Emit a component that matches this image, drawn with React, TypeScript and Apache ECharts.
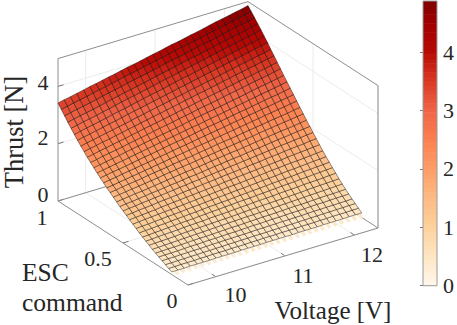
import React, { useEffect, useRef } from "react";
import * as echarts from "echarts";

const voltages = [9.6,9.69,9.78,9.87,9.97,10.06,10.15,10.24,10.33,10.42,10.51,10.6,10.7,10.79,10.88,10.97,11.06,11.15,11.24,11.34,11.43,11.52,11.61,11.7,11.79,11.88,11.97,12.07,12.16,12.25,12.34];
const commands = [0.1,0.125,0.15,0.175,0.2,0.225,0.25,0.275,0.3,0.325,0.35,0.375,0.4,0.425,0.45,0.475,0.5,0.525,0.55,0.575,0.6,0.625,0.65,0.675,0.7,0.725,0.75,0.775,0.8,0.825,0.85,0.875,0.9,0.925,0.95,0.975,1];
// Thrust [N], one row per command. First and last column and the last row are read from
// the picture's surface edges; interior cells cannot be read one by one and are estimates between them.
const thrustRows = [
[0.05,0.05,0.05,0.05,0.05,0.06,0.06,0.06,0.06,0.06,0.06,0.06,0.06,0.06,0.06,0.07,0.07,0.07,0.07,0.07,0.07,0.07,0.07,0.07,0.07,0.08,0.08,0.08,0.08,0.08,0.08],
[0.09,0.09,0.09,0.1,0.1,0.1,0.1,0.11,0.11,0.11,0.11,0.12,0.12,0.12,0.12,0.13,0.13,0.13,0.13,0.13,0.14,0.14,0.14,0.14,0.15,0.15,0.15,0.15,0.16,0.16,0.16],
[0.14,0.14,0.15,0.15,0.15,0.16,0.16,0.17,0.17,0.17,0.18,0.18,0.18,0.19,0.19,0.2,0.2,0.2,0.21,0.21,0.21,0.22,0.22,0.22,0.23,0.23,0.24,0.24,0.24,0.25,0.25],
[0.2,0.2,0.21,0.21,0.22,0.22,0.23,0.23,0.24,0.24,0.25,0.25,0.26,0.26,0.27,0.27,0.27,0.28,0.28,0.29,0.29,0.3,0.3,0.31,0.31,0.32,0.32,0.33,0.33,0.34,0.34],
[0.26,0.27,0.27,0.28,0.28,0.29,0.29,0.3,0.31,0.31,0.32,0.32,0.33,0.33,0.34,0.35,0.35,0.36,0.36,0.37,0.37,0.38,0.38,0.39,0.4,0.4,0.41,0.41,0.42,0.42,0.43],
[0.32,0.33,0.33,0.34,0.35,0.36,0.36,0.37,0.38,0.38,0.39,0.4,0.4,0.41,0.42,0.43,0.43,0.44,0.45,0.45,0.46,0.47,0.47,0.48,0.49,0.5,0.5,0.51,0.52,0.52,0.53],
[0.38,0.39,0.4,0.4,0.41,0.42,0.43,0.44,0.44,0.45,0.46,0.47,0.48,0.48,0.49,0.5,0.51,0.52,0.52,0.53,0.54,0.55,0.56,0.56,0.57,0.58,0.59,0.6,0.6,0.61,0.62],
[0.44,0.45,0.46,0.47,0.48,0.49,0.5,0.51,0.52,0.53,0.54,0.55,0.56,0.57,0.58,0.59,0.59,0.6,0.61,0.62,0.63,0.64,0.65,0.66,0.67,0.68,0.69,0.7,0.71,0.72,0.73],
[0.51,0.52,0.53,0.54,0.55,0.57,0.58,0.59,0.6,0.61,0.62,0.63,0.64,0.65,0.66,0.68,0.69,0.7,0.71,0.72,0.73,0.74,0.75,0.76,0.77,0.79,0.8,0.81,0.82,0.83,0.84],
[0.58,0.59,0.61,0.62,0.63,0.64,0.66,0.67,0.68,0.69,0.71,0.72,0.73,0.74,0.76,0.77,0.78,0.8,0.81,0.82,0.83,0.85,0.86,0.87,0.88,0.9,0.91,0.92,0.93,0.95,0.96],
[0.65,0.66,0.68,0.69,0.71,0.72,0.74,0.75,0.76,0.78,0.79,0.81,0.82,0.84,0.85,0.87,0.88,0.89,0.91,0.92,0.94,0.95,0.97,0.98,0.99,1.01,1.02,1.04,1.05,1.07,1.08],
[0.72,0.74,0.75,0.77,0.78,0.8,0.82,0.83,0.85,0.86,0.88,0.9,0.91,0.93,0.94,0.96,0.98,0.99,1.01,1.02,1.04,1.06,1.07,1.09,1.1,1.12,1.14,1.15,1.17,1.18,1.2],
[0.8,0.82,0.83,0.85,0.87,0.89,0.9,0.92,0.94,0.96,0.97,0.99,1.01,1.03,1.04,1.06,1.08,1.09,1.11,1.13,1.15,1.16,1.18,1.2,1.22,1.23,1.25,1.27,1.29,1.3,1.32],
[0.88,0.9,0.92,0.94,0.96,0.98,0.99,1.01,1.03,1.05,1.07,1.09,1.11,1.13,1.15,1.17,1.18,1.2,1.22,1.24,1.26,1.28,1.3,1.32,1.34,1.36,1.37,1.39,1.41,1.43,1.45],
[0.96,0.98,1,1.02,1.04,1.07,1.09,1.11,1.13,1.15,1.17,1.19,1.21,1.23,1.25,1.28,1.3,1.32,1.34,1.36,1.38,1.4,1.42,1.44,1.46,1.49,1.51,1.53,1.55,1.57,1.59],
[1.04,1.06,1.09,1.11,1.13,1.16,1.18,1.2,1.22,1.25,1.27,1.29,1.32,1.34,1.36,1.39,1.41,1.43,1.45,1.48,1.5,1.52,1.55,1.57,1.59,1.62,1.64,1.66,1.68,1.71,1.73],
[1.12,1.15,1.17,1.2,1.22,1.25,1.27,1.3,1.32,1.35,1.37,1.4,1.42,1.45,1.47,1.5,1.52,1.55,1.57,1.6,1.62,1.65,1.67,1.7,1.72,1.75,1.77,1.8,1.82,1.85,1.87],
[1.2,1.23,1.25,1.28,1.31,1.34,1.36,1.39,1.42,1.44,1.47,1.5,1.52,1.55,1.58,1.61,1.63,1.66,1.69,1.71,1.74,1.77,1.79,1.82,1.85,1.88,1.9,1.93,1.96,1.98,2.01],
[1.29,1.32,1.35,1.38,1.4,1.43,1.46,1.49,1.52,1.55,1.58,1.61,1.63,1.66,1.69,1.72,1.75,1.78,1.81,1.83,1.86,1.89,1.92,1.95,1.98,2.01,2.04,2.06,2.09,2.12,2.15],
[1.38,1.41,1.44,1.47,1.5,1.53,1.56,1.59,1.63,1.66,1.69,1.72,1.75,1.78,1.81,1.84,1.87,1.9,1.93,1.96,1.99,2.02,2.05,2.09,2.12,2.15,2.18,2.21,2.24,2.27,2.3],
[1.47,1.5,1.54,1.57,1.6,1.63,1.67,1.7,1.73,1.76,1.8,1.83,1.86,1.89,1.93,1.96,1.99,2.03,2.06,2.09,2.12,2.16,2.19,2.22,2.25,2.29,2.32,2.35,2.38,2.42,2.45],
[1.56,1.59,1.63,1.66,1.7,1.73,1.77,1.8,1.84,1.87,1.91,1.94,1.98,2.01,2.05,2.08,2.11,2.15,2.18,2.22,2.25,2.29,2.32,2.36,2.39,2.43,2.46,2.5,2.53,2.57,2.6],
[1.66,1.7,1.73,1.77,1.81,1.84,1.88,1.91,1.95,1.99,2.02,2.06,2.1,2.13,2.17,2.21,2.24,2.28,2.31,2.35,2.39,2.42,2.46,2.5,2.53,2.57,2.6,2.64,2.68,2.71,2.75],
[1.76,1.8,1.84,1.87,1.91,1.95,1.99,2.03,2.06,2.1,2.14,2.18,2.22,2.25,2.29,2.33,2.37,2.41,2.44,2.48,2.52,2.56,2.6,2.63,2.67,2.71,2.75,2.79,2.82,2.86,2.9],
[1.86,1.9,1.94,1.98,2.02,2.06,2.1,2.14,2.18,2.22,2.26,2.3,2.34,2.38,2.42,2.46,2.49,2.53,2.57,2.61,2.65,2.69,2.73,2.77,2.81,2.85,2.89,2.93,2.97,3.01,3.05],
[1.97,2.01,2.05,2.09,2.13,2.18,2.22,2.26,2.3,2.34,2.38,2.42,2.46,2.5,2.54,2.59,2.63,2.67,2.71,2.75,2.79,2.83,2.87,2.91,2.95,3,3.04,3.08,3.12,3.16,3.2],
[2.08,2.12,2.17,2.21,2.25,2.29,2.34,2.38,2.42,2.46,2.51,2.55,2.59,2.63,2.68,2.72,2.76,2.81,2.85,2.89,2.93,2.98,3.02,3.06,3.1,3.15,3.19,3.23,3.27,3.32,3.36],
[2.19,2.23,2.28,2.32,2.37,2.41,2.45,2.5,2.54,2.59,2.63,2.67,2.72,2.76,2.81,2.85,2.89,2.94,2.98,3.03,3.07,3.11,3.16,3.2,3.25,3.29,3.33,3.38,3.42,3.47,3.51],
[2.31,2.36,2.4,2.45,2.49,2.54,2.58,2.63,2.67,2.72,2.76,2.81,2.85,2.9,2.94,2.99,3.04,3.08,3.13,3.17,3.22,3.26,3.31,3.35,3.4,3.44,3.49,3.53,3.58,3.62,3.67],
[2.43,2.48,2.52,2.57,2.62,2.66,2.71,2.75,2.8,2.85,2.89,2.94,2.99,3.03,3.08,3.13,3.17,3.22,3.26,3.31,3.36,3.4,3.45,3.5,3.54,3.59,3.63,3.68,3.73,3.77,3.82],
[2.56,2.61,2.65,2.7,2.75,2.8,2.84,2.89,2.94,2.99,3.03,3.08,3.13,3.18,3.22,3.27,3.32,3.36,3.41,3.46,3.51,3.55,3.6,3.65,3.7,3.74,3.79,3.84,3.89,3.93,3.98],
[2.69,2.74,2.79,2.83,2.88,2.93,2.98,3.03,3.07,3.12,3.17,3.22,3.27,3.31,3.36,3.41,3.46,3.51,3.55,3.6,3.65,3.7,3.75,3.79,3.84,3.89,3.94,3.99,4.03,4.08,4.13],
[2.83,2.88,2.93,2.97,3.02,3.07,3.12,3.17,3.22,3.27,3.31,3.36,3.41,3.46,3.51,3.56,3.6,3.65,3.7,3.75,3.8,3.84,3.89,3.94,3.99,4.04,4.09,4.13,4.18,4.23,4.28],
[2.97,3.02,3.07,3.11,3.16,3.21,3.26,3.31,3.36,3.41,3.45,3.5,3.55,3.6,3.65,3.7,3.74,3.79,3.84,3.89,3.94,3.98,4.03,4.08,4.13,4.18,4.23,4.27,4.32,4.37,4.42],
[3.12,3.17,3.22,3.26,3.31,3.36,3.41,3.46,3.5,3.55,3.6,3.65,3.7,3.74,3.79,3.84,3.89,3.94,3.98,4.03,4.08,4.13,4.18,4.22,4.27,4.32,4.37,4.42,4.46,4.51,4.56],
[3.27,3.32,3.37,3.41,3.46,3.51,3.56,3.6,3.65,3.7,3.75,3.79,3.84,3.89,3.94,3.99,4.03,4.08,4.13,4.18,4.22,4.27,4.32,4.37,4.41,4.46,4.51,4.56,4.6,4.65,4.7],
[3.42,3.47,3.51,3.56,3.61,3.66,3.7,3.75,3.8,3.84,3.89,3.94,3.98,4.03,4.08,4.13,4.17,4.22,4.27,4.31,4.36,4.41,4.45,4.5,4.55,4.6,4.64,4.69,4.74,4.78,4.83],
];
const voltageTicks = [10, 11, 12];
const commandTicks = [0, 0.5, 1];
const thrustGrid = [2, 4];
const colorTicks = [0, 1, 2, 3, 4];
const colorMax = 4.875;
const zMax = 4.97;
const vMin = 9.6;
const vMax = 12.34;
const colorAt = [0, 0.5, 1, 1.5, 2, 2.5, 3, 3.5, 4, 4.5, 4.875];
const colorStops = ["#fff7ec", "#fee6c4", "#fdd29d", "#fdbb84", "#fd9d66", "#fb8050", "#ee6548", "#da3a25", "#b80a05", "#a00000", "#7f0000"];
const LEVELS = 64;

const FRONT = [188, 285];
const VDIR = [190, -57];
const CDIR = [-130, -84];
const ZSCALE = 28.65;
const FONT = "Liberation Serif, Times New Roman, DejaVu Serif, serif";
const INK = "#262626";

function project(v: number, c: number, z: number) {
  const a = (v - vMin) / (vMax - vMin);
  return [FRONT[0] + a * VDIR[0] + c * CDIR[0], FRONT[1] + a * VDIR[1] + c * CDIR[1] - z * ZSCALE];
}
function hex(s: string) {
  return [1, 3, 5].map((i) => parseInt(s.slice(i, i + 2), 16));
}
function colorOf(value: number) {
  const lvl = Math.min(LEVELS - 1, Math.max(0, Math.floor((value / colorMax) * LEVELS)));
  const t = ((lvl + 0.5) / LEVELS) * colorMax;
  let i = 0;
  while (i < colorAt.length - 2 && t > colorAt[i + 1]) i++;
  const f = (t - colorAt[i]) / (colorAt[i + 1] - colorAt[i]);
  const a = hex(colorStops[i]);
  const b = hex(colorStops[i + 1]);
  return `rgb(${a.map((x, k) => Math.round(x + (b[k] - x) * f)).join(",")})`;
}
// The reference's low part of the surface is a little more saturated than the colour bar at that height.
const surfaceColor = (t: number) => colorOf(t + 0.3 * Math.max(0, 1 - t / 3));

type Seg = { p: number[][]; kind: "grid" | "box" | "tick" };
const segs: Seg[] = [];
const seg = (a: number[], b: number[], kind: Seg["kind"]) => segs.push({ p: [project(a[0], a[1], a[2]), project(b[0], b[1], b[2])], kind });
voltageTicks.forEach((v) => {
  seg([v, 0, 0], [v, 1, 0], "grid");
  seg([v, 1, 0], [v, 1, zMax], "grid");
  seg([v, 0, 0], [v, 0.03, 0], "tick");
});
commandTicks.forEach((c) => {
  seg([vMin, c, 0], [vMax, c, 0], "grid");
  seg([vMax, c, 0], [vMax, c, zMax], "grid");
  seg([vMin, c, 0], [vMin + 0.08, c, 0], "tick");
});
thrustGrid.forEach((z) => {
  seg([vMin, 1, z], [vMax, 1, z], "grid");
  seg([vMax, 1, z], [vMax, 0, z], "grid");
  seg([vMin, 1, z], [vMin + 0.08, 1, z], "tick");
});
seg([vMin, 1, 0], [vMin, 0, 0], "box");
seg([vMin, 0, 0], [vMax, 0, 0], "box");
seg([vMin, 1, 0], [vMax, 1, 0], "box");
seg([vMax, 1, 0], [vMax, 0, 0], "box");
seg([vMin, 1, 0], [vMin, 1, zMax], "box");
seg([vMax, 0, 0], [vMax, 0, zMax], "box");
seg([vMin, 1, zMax], [vMax, 1, zMax], "box");
seg([vMax, 1, zMax], [vMax, 0, zMax], "box");

const cells: number[][] = [];
for (let r = 0; r < commands.length - 1; r++) for (let k = 0; k < voltages.length - 1; k++) cells.push([k, r]);
const bands: number[][] = [];
for (let i = 0; i < LEVELS; i++) bands.push([(i / LEVELS) * colorMax, ((i + 1) / LEVELS) * colorMax]);

const text = (t: string, x: number, y: number, size: number, extra: object = {}) => ({
  type: "text",
  x,
  y,
  silent: true,
  style: { text: t, fontFamily: FONT, fontSize: size, fill: INK, textAlign: "center", textVerticalAlign: "middle", ...extra },
});

export default function App() {
  const ref = useRef<HTMLDivElement>(null);
  useEffect(() => {
    document.body.style.margin = "0";
    const chart = echarts.init(ref.current!, undefined, { renderer: "svg" });
    chart.setOption({
      animation: false,
      backgroundColor: "#fff",
      grid: [
        { left: 0, top: 0, width: 457, height: 325 },
        { left: 423, top: 1, width: 16, height: 284.7, show: true, borderColor: "#9a9a9a", borderWidth: 1, z: 5 },
      ],
      xAxis: [
        { type: "value", min: 0, max: 457, show: false, gridIndex: 0 },
        { type: "value", min: 0, max: 1, show: false, gridIndex: 1 },
      ],
      yAxis: [
        { type: "value", min: 0, max: 325, inverse: true, show: false, gridIndex: 0 },
        {
          type: "value",
          min: 0,
          max: colorMax,
          gridIndex: 1,
          position: "right",
          splitLine: { show: false },
          axisLine: { show: false },
          axisTick: { inside: true, length: 3, lineStyle: { color: "#777" }, customValues: colorTicks },
          axisLabel: { customValues: colorTicks, margin: 6, fontFamily: FONT, fontSize: 22, color: INK },
        },
      ],
      series: [
        {
          type: "custom",
          xAxisIndex: 0,
          yAxisIndex: 0,
          z: 1,
          silent: true,
          data: segs.map((_, i) => [i]),
          renderItem: (params: any, api: any) => {
            const s = segs[params.dataIndex];
            const a = api.coord(s.p[0]);
            const b = api.coord(s.p[1]);
            const st =
              s.kind === "grid"
                ? { stroke: "#ececec", lineWidth: 1 }
                : s.kind === "box"
                ? { stroke: "#8e8e8e", lineWidth: 1 }
                : { stroke: "#777", lineWidth: 1 };
            return { type: "line", shape: { x1: a[0], y1: a[1], x2: b[0], y2: b[1] }, style: st };
          },
        },
        {
          type: "custom",
          xAxisIndex: 0,
          yAxisIndex: 0,
          z: 2,
          silent: true,
          data: cells,
          renderItem: (params: any, api: any) => {
            const [k, r] = cells[params.dataIndex];
            const pts = [
              [k, r],
              [k + 1, r],
              [k + 1, r + 1],
              [k, r + 1],
            ].map(([a, b]) => api.coord(project(voltages[a], commands[b], thrustRows[b][a])));
            const mean = (thrustRows[r][k] + thrustRows[r][k + 1] + thrustRows[r + 1][k] + thrustRows[r + 1][k + 1]) / 4;
            if (r === 0) {
              // the lowest row of the mesh is cut off at the floor: only a fringe of colour remains
              const mid = (i: number, j: number) => [(pts[i][0] + pts[j][0]) / 2, (pts[i][1] + pts[j][1]) / 2];
              const a = mid(0, 1);
              const b = mid(2, 3);
              return { type: "line", shape: { x1: a[0], y1: a[1], x2: b[0], y2: b[1] }, style: { stroke: surfaceColor(mean), lineWidth: 3.4 } };
            }
            return {
              type: "polygon",
              shape: { points: pts },
              style: { fill: surfaceColor(mean), stroke: "rgba(0,0,0,0.42)", lineWidth: 1 },
            };
          },
        },
        {
          type: "custom",
          xAxisIndex: 1,
          yAxisIndex: 1,
          z: 2,
          silent: true,
          data: bands,
          renderItem: (params: any, api: any) => {
            const [lo, hi] = bands[params.dataIndex];
            const a = api.coord([0, lo]);
            const b = api.coord([1, hi]);
            return {
              type: "rect",
              shape: { x: a[0], y: b[1], width: b[0] - a[0], height: a[1] - b[1] + 0.5 },
              style: { fill: colorOf((lo + hi) / 2) },
            };
          },
        },
      ],
      graphic: [
        text("10", 235.5, 294.5, 22),
        text("11", 303, 275, 22),
        text("12", 372, 254.5, 22),
        text("0", 172, 300, 22),
        text("0.5", 98, 258, 22),
        text("1", 42, 217, 22),
        text("0", 43, 194, 22),
        text("2", 43, 137, 22),
        text("4", 43, 82, 22),
        text("ESC", 22, 272, 25.5, { textAlign: "left" }),
        text("command", 22, 302, 25.5, { textAlign: "left" }),
        text("Voltage [V]", 333, 310, 25),
        { ...text("Thrust [N]", 14, 132, 26.5), rotation: Math.PI / 2 },
      ],
    });
    return () => chart.dispose();
  }, []);
  return <div ref={ref} style={{ width: 457, height: 325 }} />;
}
